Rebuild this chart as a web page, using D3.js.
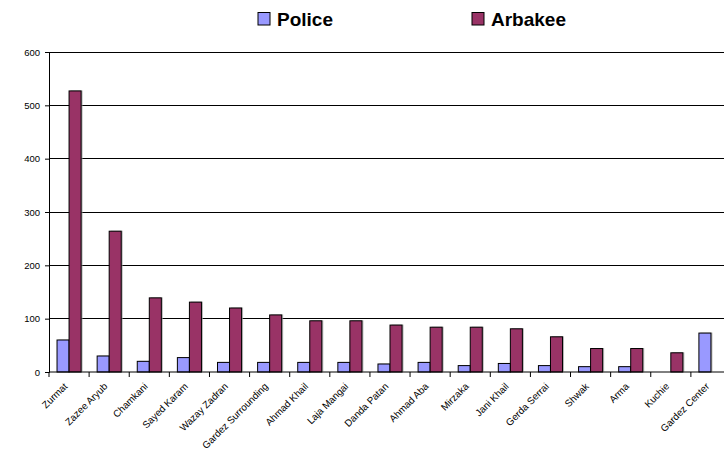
<!DOCTYPE html>
<html><head><meta charset="utf-8">
<script src="https://cdn.jsdelivr.net/npm/d3@7"></script>
<style>body{margin:0;background:#fff}svg{display:block}</style>
</head><body>
<svg id="c" width="724" height="454"></svg>
<script>
const categories = ["Zurmat","Zazee Aryub","Chamkani","Sayed Karam","Wazay Zadran","Gardez Surrounding","Ahmad Khail","Laja Mangai","Danda Patan","Ahmad Aba","Mirzaka","Jani Khail","Gerda Serrai","Shwak","Arma","Kuchie","Gardez Center"];
const police  = [60,30,20,27,18,18,18,18,15,18,12,16,12,10,10,0,73];
const arbakee = [527,264,139,131,120,107,96,96,88,84,84,81,66,44,44,36,0];
const seriesNames = ["Police","Arbakee"];
const colors = ["#9999FF","#993366"];
const yTicks = [0,100,200,300,400,500,600];

(function(){
const svg = d3.select("#c");
const mLeft = 49, mRight = 731, mTop = 52, mBottom = 372;
const x = d3.scaleBand().domain(categories).range([mLeft, mRight]).paddingInner(0).paddingOuter(0);
const y = d3.scaleLinear().domain([0,600]).range([mBottom, mTop]);
const bw = x.bandwidth();
const sub = d3.scaleBand().domain(seriesNames).range([bw*0.2, bw*0.8]);

// gridlines
svg.append("g").selectAll("line").data(yTicks.filter(d=>d>0)).join("line")
  .attr("x1", mLeft).attr("x2", 724).attr("y1", d=>y(d)).attr("y2", d=>y(d))
  .attr("stroke","#000").attr("stroke-width",1).attr("shape-rendering","crispEdges");

// y axis
const ya = svg.append("g").attr("transform",`translate(${mLeft},0)`)
  .call(d3.axisLeft(y).tickValues(yTicks).tickSize(4).tickPadding(5));
ya.select(".domain").attr("stroke","#000");
ya.selectAll("text").attr("font-family","Liberation Sans, Arial, sans-serif").attr("font-size","9.5px").attr("fill","#000");

const data = categories.map((c,i)=>({c, vals:[police[i], arbakee[i]]}));
const groups = svg.append("g").selectAll("g").data(data).join("g")
  .attr("transform", d=>`translate(${x(d.c)},0)`);
seriesNames.forEach((s,si)=>{
  const sel = groups.filter(d=>d.vals[si]>0);
  sel.append("rect").attr("x", sub(s)+1.5).attr("y", d=>y(d.vals[si])-0.5)
    .attr("width", sub.bandwidth()).attr("height", d=>mBottom - y(d.vals[si]))
    .attr("fill","#999").attr("opacity",0.7);
  sel.append("rect").attr("x", sub(s)).attr("y", d=>y(d.vals[si]))
    .attr("width", sub.bandwidth()).attr("height", d=>mBottom - y(d.vals[si]))
    .attr("fill", colors[si]).attr("stroke","#000").attr("stroke-width",1);
});

// x axis
const xa = svg.append("g").attr("transform",`translate(0,${mBottom})`);
xa.append("line").attr("x1",mLeft).attr("x2",724).attr("y1",0).attr("y2",0).attr("stroke","#000");
xa.selectAll("line.t").data(categories).join("line").attr("class","t")
  .attr("x1", d=>x(d)).attr("x2", d=>x(d)).attr("y1",0).attr("y2",5).attr("stroke","#000");
xa.selectAll("text").data(categories).join("text")
  .attr("transform", d=>`translate(${x(d)+bw/2-1},${15}) rotate(-45)`)
  .attr("text-anchor","end")
  .attr("font-family","Liberation Sans, Arial, sans-serif").attr("font-size","9.8px").attr("fill","#000")
  .text(d=>d);

// legend
const legX = [258, 472];
seriesNames.forEach((s,i)=>{
  svg.append("rect").attr("x", legX[i]).attr("y", 12.5).attr("width", 12).attr("height", 12.5)
    .attr("fill", colors[i]).attr("stroke","#000").attr("stroke-width",1);
  svg.append("text").attr("x", legX[i]+19).attr("y", 26)
    .attr("font-family","Liberation Sans, Arial, sans-serif")
    .attr("font-weight","bold").attr("font-size","19px").attr("fill","#000").text(s);
});
})();
</script>
</body></html>
